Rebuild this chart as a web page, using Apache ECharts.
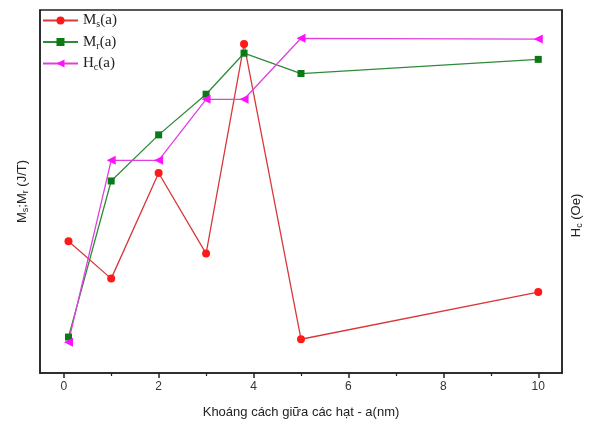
<!DOCTYPE html>
<html>
<head>
<meta charset="utf-8">
<script src="https://cdn.jsdelivr.net/npm/echarts@6/dist/echarts.min.js"></script>
<style>
  html, body { margin: 0; padding: 0; background: #fff; }
  #chart { width: 590px; height: 429px; }
</style>
</head>
<body>
<div id="chart"></div>
<script>
// Particle spacing a (nm)
const spacing = [0.1, 1, 2, 3, 3.8, 5, 10];
// Saturation magnetisation Ms (arb. units on the left axis)
const msValues = [36.3, 26.0, 55.1, 32.9, 90.6, 9.3, 22.3];
// Remanent magnetisation Mr (arb. units on the left axis)
const mrValues = [9.9, 52.9, 65.6, 76.8, 88.1, 82.5, 86.4];
// Coercivity Hc (arb. units on the right axis)
const hcValues = [8.5, 58.6, 58.6, 75.4, 75.4, 92.2, 92.0];
// Labelled ticks and the short in-between ticks on the spacing axis
const xTicks = [0, 2, 4, 6, 8, 10];
const xMinorTicks = [1, 3, 5, 7, 9];

const pairs = (xs, ys) => xs.map((x, i) => [x, ys[i]]);

const legendRich = {
  m: { fontFamily: 'Liberation Serif', fontSize: 15, color: '#222' },
  sub: { fontFamily: 'Liberation Serif', fontSize: 10, color: '#222', padding: [8, 0, 0, 0] }
};
const axisRich = {
  m: { fontFamily: 'Liberation Sans', fontSize: 13, color: '#222' },
  sub: { fontFamily: 'Liberation Sans', fontSize: 9, color: '#222', padding: [7, 0, 0, 0] }
};

const chart = echarts.init(document.getElementById('chart'), null, { renderer: 'canvas' });
chart.setOption({
  animation: false,
  backgroundColor: '#fff',
  grid: {
    left: 40, right: 28, top: 10, bottom: 56,
    outerBoundsMode: 'none', containLabel: false,
    show: true, borderColor: '#222', borderWidth: 1.5, backgroundColor: 'transparent'
  },
  legend: {
    left: 42, top: 13, padding: 0, orient: 'vertical', itemGap: 5, itemWidth: 35, itemHeight: 10,
    data: ['Ms', 'Mr', 'Hc'],
    formatter: function (name) {
      const sub = { Ms: 's', Mr: 'r', Hc: 'c' }[name];
      return '{m|' + name.charAt(0) + '}{sub|' + sub + '}{m|(a)}';
    },
    textStyle: { rich: legendRich }
  },
  xAxis: [
    {
      type: 'value', min: -0.5, max: 10.5,
      name: 'Khoáng cách giữa các hạt - a(nm)',
      nameLocation: 'middle', nameGap: 33,
      nameTextStyle: { fontFamily: 'Liberation Sans', fontSize: 13, color: '#222' },
      axisLine: { show: true, onZero: false, lineStyle: { color: '#222', width: 1.5 } },
      axisTick: { show: true, length: 5, inside: false, lineStyle: { color: '#222', width: 1.5 }, customValues: xTicks },
      axisLabel: { customValues: xTicks, fontFamily: 'Liberation Sans', fontSize: 12, color: '#333', margin: 8 },
      splitLine: { show: false }
    },
    {
      type: 'value', min: -0.5, max: 10.5, position: 'bottom',
      axisLine: { show: false, onZero: false },
      axisTick: { show: true, length: 3, inside: false, lineStyle: { color: '#222', width: 1.2 }, customValues: xMinorTicks },
      axisLabel: { show: false },
      splitLine: { show: false }
    }
  ],
  yAxis: [
    {
      type: 'value', min: 0, max: 100, position: 'left',
      name: '{m|M}{sub|s}{m|;M}{sub|r}{m| (J/T)}',
      nameLocation: 'middle', nameGap: 10, nameRotate: 90,
      nameTextStyle: { rich: axisRich },
      axisLine: { show: true, onZero: false, lineStyle: { color: '#222', width: 1.5 } },
      axisTick: { show: false }, axisLabel: { show: false }, splitLine: { show: false }
    },
    {
      type: 'value', min: 0, max: 100, position: 'right',
      name: '{m|H}{sub|c}{m| (Oe)}',
      nameLocation: 'middle', nameGap: 6, nameRotate: 90,
      nameTextStyle: { rich: axisRich, padding: [0, 48, 0, 0] },
      axisLine: { show: true, onZero: false, lineStyle: { color: '#222', width: 1.5 } },
      axisTick: { show: false }, axisLabel: { show: false }, splitLine: { show: false }
    }
  ],
  series: [
    {
      name: 'Ms', type: 'line', yAxisIndex: 0, data: pairs(spacing, msValues),
      symbol: 'circle', symbolSize: 8,
      lineStyle: { color: '#d8383a', width: 1.3 },
      itemStyle: { color: '#ff1a1a' }
    },
    {
      name: 'Mr', type: 'line', yAxisIndex: 0, data: pairs(spacing, mrValues),
      symbol: 'rect', symbolSize: 7,
      lineStyle: { color: '#2f8a3a', width: 1.3 },
      itemStyle: { color: '#0a7a14' }
    },
    {
      name: 'Hc', type: 'line', yAxisIndex: 1, data: pairs(spacing, hcValues),
      symbol: 'triangle', symbolSize: 9, symbolRotate: 90,
      lineStyle: { color: '#e040e0', width: 1.3 },
      itemStyle: { color: '#ff10ff' }
    }
  ]
});
</script>
</body>
</html>
